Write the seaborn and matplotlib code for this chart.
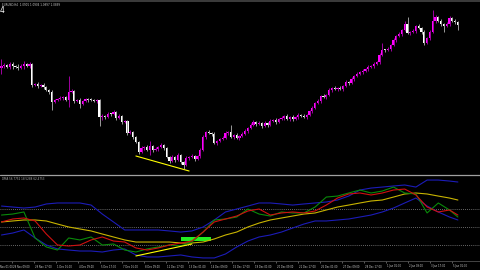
import numpy as np
import pandas as pd
import matplotlib
matplotlib.use("Agg")
import matplotlib.pyplot as plt
import matplotlib.transforms as mtransforms
from matplotlib.patches import Rectangle
import seaborn as sns

# ---------------- data (H4 bars, price in chart points) ----------------
open_first = 112
close_pts = [114,115,113,116,114,113,112,114,116,114,
             116,95,96,94,95,93,90,88,78,80,
             81,82,83,80,88,89,79,80,76,79,
             81,80,80,79,80,63,64,63,66,66,
             68,62,64,58,59,47,48,43,38,28,
             32,33,30,34,30,31,33,35,32,23,
             19,23,20,25,18,15,22,23,24,21,
             24,30,43,48,47,46,37,39,41,42,
             47,48,43,45,42,44,46,49,52,55,
             58,56,57,54,57,55,59,60,58,61,
             62,64,61,63,61,63,65,64,63,65,
             69,72,77,79,84,83,85,90,92,91,
             92,91,94,98,97,101,104,106,108,109,
             111,113,114,116,118,125,130,130,131,135,
             140,144,146,150,156,147,148,149,154,152,
             148,137,142,148,159,163,159,156,154,156,
             162,159,158,155]
upper_wick = [7,2,1,2,2,1,3,2,3,1,
              2,1,1,2,1,2,1,1,2,1,
              1,2,1,1,16,2,1,1,2,1,
              1,1,2,1,1,1,2,1,2,1,
              2,1,2,1,1,1,2,1,1,1,
              2,1,2,5,1,2,1,2,1,1,
              1,2,1,2,1,1,2,1,2,1,
              1,2,2,1,2,1,2,1,1,2,
              2,1,7,1,2,1,2,2,1,2,
              2,1,2,1,2,1,2,1,2,1,
              2,1,2,1,2,1,2,1,2,1,
              1,2,1,2,1,2,1,2,1,2,
              1,2,1,2,1,2,1,2,1,2,
              1,2,1,2,1,2,7,1,2,1,
              2,1,2,1,3,7,1,2,1,2,
              1,2,1,2,11,2,1,2,1,2,
              2,1,2,1]
lower_wick = [6,2,1,2,3,1,2,1,3,1,
              2,2,1,2,1,2,1,2,8,1,
              1,1,2,1,7,1,2,1,4,1,
              1,2,1,1,2,9,3,2,1,2,
              1,2,1,2,1,2,1,2,1,2,
              1,2,1,5,2,1,2,1,2,1,
              2,1,2,1,2,4,1,2,1,2,
              1,2,1,2,1,2,1,2,1,1,
              1,2,1,2,1,2,1,1,2,1,
              1,2,1,2,1,2,1,1,2,1,
              1,2,1,2,2,1,2,1,1,2,
              1,2,1,1,2,1,2,1,2,1,
              2,1,2,1,2,1,2,1,1,2,
              1,2,1,2,1,2,1,2,1,2,
              1,2,1,2,1,1,2,1,2,1,
              2,2,1,2,1,2,1,2,6,1,
              2,1,2,5]

# indicator window (sampled every 4 bars)
ind_bars = list(range(0, 164, 4)) + [163]
bb_upper = [73.3,72.2,71.1,72.2,75.6,76.7,76.7,76.7,74.4,64.4,
            55.6,46.7,46.7,46.7,46.7,45.6,44.4,45.6,50.0,57.8,
            66.7,70.0,73.3,76.7,76.7,75.6,74.4,75.6,76.7,77.8,
            80.0,84.4,91.1,93.3,94.4,95.6,96.7,94.4,102.2,102.2,
            101.1,100.0]
bb_lower = [41.1,43.3,46.7,37.8,30.0,25.6,24.4,23.3,23.3,22.2,
            24.4,25.6,18.9,16.7,16.7,17.8,18.9,16.7,15.6,15.6,
            20.0,27.8,34.4,38.9,41.1,44.4,48.9,53.3,56.7,56.7,
            57.8,58.9,61.1,63.3,66.7,71.1,76.7,82.2,73.3,66.7,
            61.1,57.8]
signal_red = [55.6,58.9,60.0,56.7,42.2,30.0,28.9,30.0,35.6,38.9,
              34.4,33.3,26.7,24.4,26.7,30.0,32.2,34.4,44.4,55.6,
              58.9,62.2,67.8,70.0,63.3,65.6,66.7,65.6,67.8,74.4,
              82.2,86.7,87.8,85.6,87.8,91.1,92.2,85.6,72.2,66.7,
              68.9,63.3]
osc_green = [63.3,64.4,66.7,37.8,27.8,24.4,37.8,35.6,38.9,30.0,
             31.1,24.4,22.2,25.6,27.8,30.0,28.9,33.3,44.4,57.8,
             58.9,61.1,70.0,64.4,62.2,66.7,65.6,65.6,72.2,83.3,
             84.4,87.8,91.1,87.8,90.0,94.4,87.8,86.7,65.6,76.7,
             68.9,61.1]
slow_yellow = [55.6,56.7,57.8,57.8,56.7,53.3,50.0,47.8,45.6,42.2,
               38.9,35.6,33.3,33.3,33.3,33.3,32.2,32.2,33.3,36.7,
               41.1,44.4,50.0,54.4,57.8,60.0,62.2,64.4,65.6,68.9,
               72.2,74.4,76.7,78.9,80.0,83.3,86.7,87.8,86.7,84.4,
               82.2,80.0]
ind_levels = [30, 50, 70]

trend_main_bars = [48, 67]
trend_main_vals = [24, 9]
trend_ind_bars = [48, 68]
trend_ind_vals = [17.8, 31.1]
box_bars = [64.1, 74.8]
box_vals = [34.4, 38.9]

first_label = "Nov 01:00"
time_labels = ["28 Nov 09:00", "29 Nov 17:00", "1 Dec 01:00",
               "4 Dec 09:00", "5 Dec 17:00", "7 Dec 01:00", "8 Dec 09:00",
               "11 Dec 17:00", "13 Dec 01:00", "14 Dec 09:00", "15 Dec 17:00",
               "19 Dec 01:00", "20 Dec 09:00", "21 Dec 17:00", "26 Dec 01:00",
               "27 Dec 09:00", "28 Dec 17:00", "1 Jan 01:00", "2 Jan 09:00",
               "3 Jan 17:00", "5 Jan 01:00"]

# ---------------- figure ----------------
sns.set_theme(style="dark")
plt.rcParams['font.family'] = ['DejaVu Sans']

W, H = 480, 270
fig = plt.figure(figsize=(4.8, 2.7), dpi=100, facecolor="black")

bw = 2.8      # px per bar
x0 = 1.5
xlim = (-x0 / bw, (W - x0) / bw)

ax = fig.add_axes([0, (H - 174) / H, 1, 171 / H])
ax2 = fig.add_axes([0, (H - 261) / H, 1, 85 / H])
for a in (ax, ax2):
    a.set_facecolor("black")
    a.set_xlim(*xlim)
    for s in a.spines.values():
        s.set_visible(False)
    a.grid(False)
    a.set_yticks([])
ax.set_xticks([])
ax.set_ylim(6, 177)
ax2.set_ylim(12.2, 106.7)

# candles
c = np.array(close_pts, dtype=float)
o = np.concatenate([[open_first], c[:-1]])
hi = np.maximum(o, c) + np.array(upper_wick)
lo = np.minimum(o, c) - np.array(lower_wick)
xb = np.arange(len(c))
bull = c > o
wick_cols = np.where(bull, "#a000a0", "#9a9a9a")
body_cols = np.where(bull, "#ff00ff", "#ffffff")
ax.vlines(xb, lo, hi, colors=wick_cols, linewidth=0.7)
height = np.where(np.abs(c - o) < 0.5, 0.7, np.abs(c - o))
ax.bar(xb, height, bottom=np.minimum(o, c), width=0.72, color=body_cols,
       linewidth=0)
ax.plot(trend_main_bars, trend_main_vals, color="#ffff00", lw=0.8)

# indicator
df = pd.DataFrame({"bar": ind_bars * 5,
                   "value": bb_upper + bb_lower + signal_red + osc_green + slow_yellow,
                   "series": (["upper"] * len(ind_bars) + ["lower"] * len(ind_bars)
                              + ["red"] * len(ind_bars) + ["green"] * len(ind_bars)
                              + ["yellow"] * len(ind_bars))})
for lvl in ind_levels:
    ax2.axhline(lvl, color="#8a8a8a", lw=0.6, ls=(0, (1, 1.5)))
pal = {"upper": "#1c1cb8", "lower": "#1c1cb8", "yellow": "#c8b400",
       "red": "#d01010", "green": "#0a8a0a"}
for name in ["upper", "lower", "yellow", "green", "red"]:
    sub = df[df.series == name]
    sns.lineplot(data=sub, x="bar", y="value", ax=ax2, color=pal[name],
                 lw=0.8, legend=False)
ax2.plot(trend_ind_bars, trend_ind_vals, color="#ffff00", lw=0.8)
ax2.add_patch(Rectangle((box_bars[0], box_vals[0]), box_bars[1] - box_bars[0],
                        box_vals[1] - box_vals[0], color="#22ee22", lw=0))
ax2.set_xlabel("")
ax2.set_ylabel("")
ax2.spines["bottom"].set_visible(True)
ax2.spines["bottom"].set_color("#505050")
ax2.spines["bottom"].set_linewidth(0.6)

tick_pos = [3.8 + 7.85 * k for k in range(0, 21)]
ax2.set_xticks(tick_pos)
ax2.set_xticklabels([])
ax2.tick_params(axis="x", colors="#808080", length=1.5, width=0.5, bottom=True)
tr = mtransforms.blended_transform_factory(ax2.transData, fig.transFigure)
ylab = (H - 266.5) / H
for p, lab in zip(tick_pos, time_labels):
    ax2.text(p + 0.35, ylab, lab, transform=tr, ha="left",
             va="center", fontsize=1.85, color="#d0d0d0", clip_on=False)
fig.text(0.5 / W, ylab, first_label, ha="left", va="center",
         fontsize=1.85, color="#d0d0d0")

# frame decorations
fig.add_artist(Rectangle((0, (H - 2) / H), 1, 2 / H, transform=fig.transFigure,
                         color="#3a3a3a", lw=0))
fig.add_artist(plt.Line2D([0, 1], [(H - 175) / H] * 2, transform=fig.transFigure,
                          color="#a0a0a0", lw=0.9))
fig.text(0.004, (H - 4.5) / H, "EURUSD,H4  1.0901 1.0904 1.0897 1.0899",
         fontsize=2.0, color="#c8c8c8", va="center")
fig.text(0.0, (H - 10.5) / H, "4", fontsize=5.5, color="white", va="center")
fig.text(0.004, (H - 179) / H, "DMA 56.7752 18.5288 62.4753",
         fontsize=2.0, color="#b0b0b0", va="center")

fig.savefig("out.png", dpi=100, facecolor="black")
